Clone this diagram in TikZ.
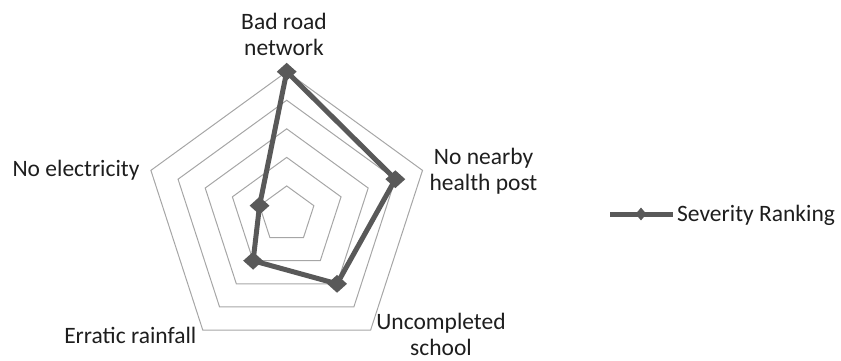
\documentclass[tikz,border=0pt]{standalone}
\usepackage{fontspec}
\setmainfont{Carlito}
\usetikzlibrary{shapes.geometric}
\definecolor{gridgray}{RGB}{166,166,166}
\definecolor{datagray}{RGB}{89,89,89}
\definecolor{txt}{RGB}{30,30,30}
\tikzset{
  gridline/.style={draw=gridgray, line width=1pt, line join=miter},
  dataline/.style={draw=datagray, line width=5pt, line join=miter},
  datamark/.style={shape=diamond, fill=datagray, draw=none, inner sep=0pt, minimum width=20pt, minimum height=18pt},
  legmark/.style={shape=diamond, fill=datagray, draw=none, inner sep=0pt, minimum width=11pt, minimum height=13pt},
  lbl/.style={text=txt, inner sep=0pt, align=center, font=\fontsize{23.5}{26}\selectfont, anchor=base}
}
\begin{document}
\begin{tikzpicture}[x=1pt,y=-1pt]
\useasboundingbox (0,0) rectangle (841,360);
\def\cx{286.7}\def\cy{214.5}\def\R{142.8}
% grid pentagons
\foreach \k in {1,...,5}{
  \foreach \i/\a in {0/90,1/18,2/-54,3/-126,4/162}{
    \coordinate (g\k-\i) at ({\cx+\R*\k/5*cos(\a)},{\cy-\R*\k/5*sin(\a)});
  }
  \draw[gridline] (g\k-0) -- (g\k-1) -- (g\k-2) -- (g\k-3) -- (g\k-4) -- cycle;
}
% data
\coordinate (d0) at (g5-0);
\coordinate (d1) at (g4-1);
\coordinate (d2) at (g3-2);
\coordinate (d3) at (g2-3);
\coordinate (d4) at (g1-4);
\draw[dataline] (d0) -- (d1) -- (d2) -- (d3) -- (d4) -- cycle;
\foreach \i in {0,...,4}{ \node[datamark] (m\i) at (d\i) {}; }
% labels (base = last line baseline)
\node[lbl] (l0) at (284,55) {Bad road\\network};
\node[lbl] (l1) at (483.5,190) {No nearby\\health post};
\node[lbl] (l2) at (441,355) {Uncompleted\\school};
\node[lbl] (l3) at (130.3,343.3) {Erratic rainfall};
\node[lbl] (l4) at (76,176) {No electricity};
% legend
\coordinate (la) at (610,214);
\coordinate (lb) at (673,214);
\draw[dataline] (la) -- (lb);
\node[legmark] (lm) at (641,214) {};
\node[lbl, anchor=base west] (lt) at (677,221.7) {Severity Ranking};
\end{tikzpicture}
\end{document}
